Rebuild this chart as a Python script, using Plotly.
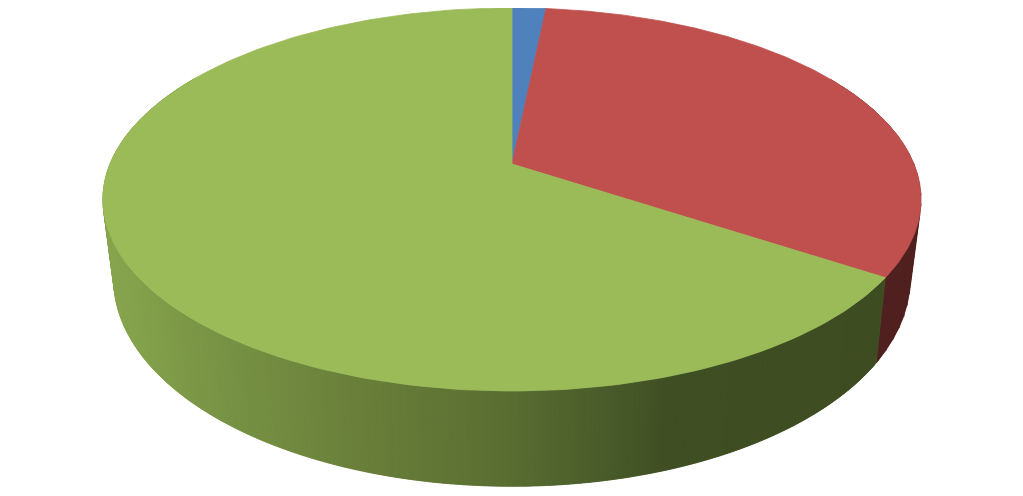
"""3D-look pie drawn as filled polygons, with a perspective projection of a disc."""
import numpy as np
import plotly.graph_objects as go

slices = ["blue", "red", "green"]
shares = [1.6, 32.7, 65.7]

TOP_COLORS = ["#4f81bd", "#c0504d", "#9bbb59"]
RED_SIDE = "#4f201f"

# (a, k, b, y0) of the projected upper and lower disc, in picture pixels
TOP_DISC = (402, 0.185, 185, 164)
LOW_DISC = (391, 0.19, 199.5, 240)
CX = 512
STEP = 0.6

# green side goes dark from left to right
SIDE_X = [110, 200, 350, 500, 600, 665, 900]
SIDE_R = [136, 122, 106, 90, 74, 63, 62]
SIDE_G = [165, 150, 128, 110, 92, 78, 76]
SIDE_B = [78, 70, 58, 50, 42, 35, 34]


def project(disc, deg):
    a, k, b, y0 = disc
    t = np.radians(deg)
    u, v = np.sin(t), -np.cos(t)  # clockwise from the top of the pie
    w = 1 - k * v
    return CX + a * u / w, y0 + b * v / w


def poly(x, y, color, width=0.5):
    return go.Scatter(x=list(x), y=list(y), mode="lines", fill="toself",
                      fillcolor=color, line=dict(color=color, width=width),
                      hoverinfo="skip", showlegend=False)


def side_strip(t0, t1, color=None):
    xt, yt = project(TOP_DISC, np.array([t0, t1]))
    xb, yb = project(LOW_DISC, np.array([t1, t0]))
    if color is None:
        color = side_color((xt.mean() + xb.mean()) / 2)
    return poly([*xt, *xb, xt[0]], [*yt, *yb, yt[0]], color)


def side_color(x):
    r = np.interp(x, SIDE_X, SIDE_R)
    g = np.interp(x, SIDE_X, SIDE_G)
    b = np.interp(x, SIDE_X, SIDE_B)
    return f"rgb({r:.0f},{g:.0f},{b:.0f})"


edges = np.cumsum([0] + shares) / sum(shares) * 360
fig = go.Figure()

# side wall first, the top surface is painted over it
# red strips overlap a lot so the seams disappear, green then covers the end
for t0 in np.arange(max(edges[1], 60), edges[2], 3):
    fig.add_trace(side_strip(t0, min(t0 + 6, edges[2]), RED_SIDE))

# each green strip overlaps the next one so no seams show
for t0 in np.arange(edges[2], 300, STEP):
    fig.add_trace(side_strip(t0, t0 + 2 * STEP))

for i, name in enumerate(slices):
    arc = np.linspace(edges[i], edges[i + 1], 200)
    x, y = project(TOP_DISC, arc)
    fig.add_trace(poly([CX, *x, CX], [TOP_DISC[3], *y, TOP_DISC[3]], TOP_COLORS[i], 0.8))

# the page body keeps its 8px margin, so the plot covers the picture from 8 onwards
fig.update_layout(width=1015, height=488, margin=dict(l=0, r=0, t=0, b=0),
                  paper_bgcolor="white", plot_bgcolor="white", showlegend=False)
fig.update_xaxes(range=[8, 1023], visible=False)
fig.update_yaxes(range=[496, 8], visible=False)
fig.write_html("out.html")
